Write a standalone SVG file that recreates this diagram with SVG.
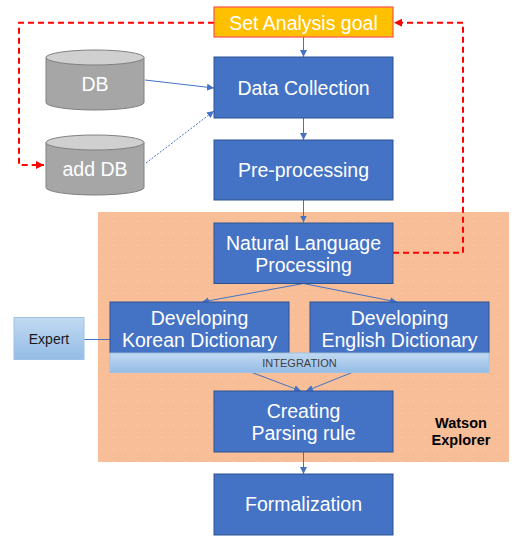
<svg xmlns="http://www.w3.org/2000/svg" width="530" height="542" viewBox="0 0 530 542">
<style>
.box{fill:#4472C4;stroke:#2F528F;stroke-width:1}
.t{font-family:"Liberation Sans",Arial,sans-serif;fill:#fff;font-size:19.5px;text-anchor:middle}
.sm{font-family:"Liberation Sans",Arial,sans-serif;fill:#333;text-anchor:middle}
.c{stroke:#4472C4;stroke-width:1;fill:none}
.r{stroke:#FF0000;stroke-width:2;fill:none;stroke-dasharray:6 4}
.cyl{fill:#A6A6A6;stroke:#808080;stroke-width:1}
.cyltop{fill:#D0D0D0;stroke:#808080;stroke-width:1}
</style>
<defs>
<marker id="ab" viewBox="0 0 10 10" refX="10" refY="5" markerWidth="7" markerHeight="7" orient="auto" markerUnits="userSpaceOnUse"><path d="M0,0L10,5L0,10z" fill="#4472C4"/></marker>
<marker id="ar" viewBox="0 0 10 10" refX="10" refY="5" markerWidth="8" markerHeight="8" orient="auto" markerUnits="userSpaceOnUse"><path d="M0,0L10,5L0,10z" fill="#FF0000"/></marker>
<linearGradient id="lb" x1="0" y1="0" x2="0" y2="1"><stop offset="0" stop-color="#C2DAF2"/><stop offset="1" stop-color="#94BCE6"/></linearGradient>
<pattern id="dots" width="12" height="12" patternUnits="userSpaceOnUse"><rect width="12" height="12" fill="#F7BE98"/><rect x="5" y="5" width="1" height="1" fill="#FBD9C2"/></pattern>
</defs>

<g id="watson-explorer">
<rect x="98" y="212" width="411" height="250" fill="url(#dots)"/>
<text class="sm" x="461" y="427.5" font-size="14.5" font-weight="bold" style="fill:#000">Watson</text>
<text class="sm" x="461" y="444.5" font-size="14.5" font-weight="bold" style="fill:#000">Explorer</text>
</g>

<g id="connectors">
<line class="c" x1="303.5" y1="37" x2="303.5" y2="57" marker-end="url(#ab)"/>
<line class="c" x1="303.5" y1="118" x2="303.5" y2="140" marker-end="url(#ab)"/>
<line class="c" x1="303.5" y1="200" x2="303.5" y2="222.5" marker-end="url(#ab)"/>
<line class="c" x1="145" y1="80" x2="214" y2="88" marker-end="url(#ab)"/>
<line class="c" x1="146" y1="163" x2="214" y2="111" stroke-dasharray="2 1.5" marker-end="url(#ab)"/>
<line class="c" x1="303.5" y1="283.5" x2="202" y2="302" marker-end="url(#ab)"/>
<line class="c" x1="303.5" y1="283.5" x2="397" y2="302" marker-end="url(#ab)"/>
<line class="c" x1="252" y1="372.5" x2="301" y2="391" marker-end="url(#ab)"/>
<line class="c" x1="352" y1="372.5" x2="306" y2="391" marker-end="url(#ab)"/>
<line class="c" x1="303.5" y1="452" x2="303.5" y2="474" marker-end="url(#ab)"/>
<line class="c" x1="84" y1="339.5" x2="110" y2="339.5"/>
<polyline class="r" points="214,22.7 19,22.7 19,165 44,165" marker-end="url(#ar)"/>
<polyline class="r" points="393,252.7 463,252.7 463,22.7 394,22.7" marker-end="url(#ar)"/>
</g>

<g id="set-analysis-goal">
<rect x="214" y="7" width="179" height="30" fill="#FFC000" stroke="#FF5050" stroke-width="1.2"/>
<text class="t" x="303.5" y="29.5">Set Analysis goal</text>
</g>

<g id="db">
<path class="cyl" d="M46,57.5V102.5A49,7.5 0 0 0 144,102.5V57.5"/>
<ellipse class="cyltop" cx="95" cy="57.5" rx="49" ry="7.5"/>
<text class="t" x="95" y="90.5">DB</text>
</g>

<g id="add-db">
<path class="cyl" d="M46,142.5V187.5A49,7.5 0 0 0 144,187.5V142.5"/>
<ellipse class="cyltop" cx="95" cy="142.5" rx="49" ry="7.5"/>
<text class="t" x="95" y="176">add DB</text>
</g>

<g id="data-collection">
<rect class="box" x="214" y="57" width="179" height="61"/>
<text class="t" x="303.5" y="94.5">Data Collection</text>
</g>

<g id="pre-processing">
<rect class="box" x="214" y="140" width="179" height="60"/>
<text class="t" x="303.5" y="176.5">Pre-processing</text>
</g>

<g id="nlp">
<rect class="box" x="214" y="223" width="179" height="60.5"/>
<text class="t" x="303.5" y="249.5">Natural Language</text>
<text class="t" x="303.5" y="271.5">Processing</text>
</g>

<g id="korean-dictionary">
<rect class="box" x="110" y="302" width="179" height="51"/>
<text class="t" x="199.5" y="324.5">Developing</text>
<text class="t" x="199.5" y="346.5">Korean Dictionary</text>
</g>

<g id="english-dictionary">
<rect class="box" x="310" y="302" width="179" height="51"/>
<text class="t" x="399.5" y="324.5">Developing</text>
<text class="t" x="399.5" y="346.5">English Dictionary</text>
</g>

<g id="integration">
<rect x="110" y="353" width="379" height="19.5" fill="url(#lb)" stroke="#9DC3E6" stroke-width="1"/>
<text class="sm" x="299.5" y="366.5" font-size="11" style="fill:#404040">INTEGRATION</text>
</g>

<g id="expert">
<rect x="14" y="317.5" width="70" height="42" fill="url(#lb)" stroke="#9DC3E6" stroke-width="1"/>
<text class="sm" x="49" y="344" font-size="14" style="fill:#1a1a1a">Expert</text>
</g>

<g id="creating-parsing-rule">
<rect class="box" x="214" y="391" width="179" height="61"/>
<text class="t" x="303.5" y="418">Creating</text>
<text class="t" x="303.5" y="440">Parsing rule</text>
</g>

<g id="formalization">
<rect class="box" x="214" y="474" width="179" height="61"/>
<text class="t" x="303.5" y="510.5">Formalization</text>
</g>
</svg>
